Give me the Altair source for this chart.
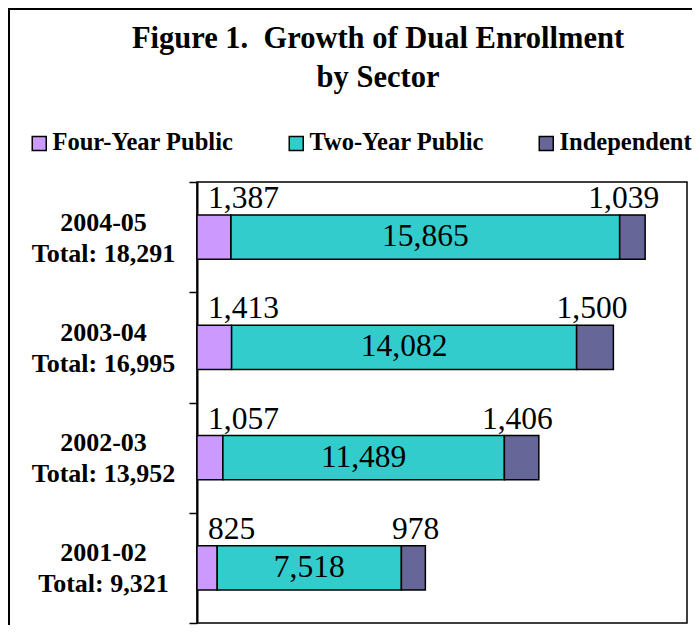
import altair as alt
import pandas as pd

years = ["2004-05", "2003-04", "2002-03", "2001-02"]
totals = [18291, 16995, 13952, 9321]
sectors = ["Four-Year Public", "Two-Year Public", "Independent"]
four_year = [1387, 1413, 1057, 825]
two_year = [15865, 14082, 11489, 7518]
independent = [1039, 1500, 1406, 978]
colors = ["#CC99FF", "#33CCCC", "#666699"]
title_lines = ["Figure 1.\u00a0 Growth of Dual Enrollment", "by Sector"]

FONT = "Liberation Serif"

labels = [f"{y}|Total: {t:,}" for y, t in zip(years, totals)]
rows = []
for i, lab in enumerate(labels):
    vals = [four_year[i], two_year[i], independent[i]]
    start = 0
    for k, (s, v) in enumerate(zip(sectors, vals)):
        rows.append({"label": lab, "sector": s, "order": k, "value": v,
                     "start": start, "end": start + v, "mid": start + v / 2})
        start += v
df = pd.DataFrame(rows)

y_enc = alt.Y(
    "label:N", sort=labels,
    scale=alt.Scale(paddingInner=0, paddingOuter=0),
    axis=alt.Axis(
        title=None, labelExpr="split(datum.label, '|')", labelAlign="center",
        labelBaseline="middle", labelFont=FONT, labelFontSize=26,
        labelFontWeight="bold", labelColor="black", labelLineHeight=31,
        labelPadding=86, labelLimit=0, labelOffset=-15, tickSize=8,
        tickBand="extent", tickColor="black", tickWidth=1.5,
        domainColor="black", domainWidth=2,
    ),
)
xscale = alt.Scale(domain=[0, 20000], nice=False, zero=True)

base = alt.Chart(df)

bars = base.mark_bar(stroke="black", strokeWidth=1.5, height={"band": 0.4}).encode(
    x=alt.X("start:Q", scale=xscale, axis=None),
    x2="end:Q",
    y=y_enc,
    color=alt.Color(
        "sector:N",
        scale=alt.Scale(domain=sectors, range=colors),
        legend=alt.Legend(
            title=None, orient="none", legendX=-170, legendY=-51,
            direction="horizontal", symbolType="square", symbolSize=196,
            symbolStrokeColor="black", symbolStrokeWidth=1.5, symbolOpacity=1,
            labelFont=FONT, labelFontSize=24.5, labelFontWeight="bold",
            labelColor="black", labelOffset=1, columnPadding=50, padding=0,
            labelLimit=0,
        ),
    ),
    order=alt.Order("order:Q"),
)

txt = dict(font=FONT, fontSize=31.5, color="black")

lab_two = base.transform_filter(alt.datum.sector == sectors[1]).mark_text(
    align="center", baseline="middle", **txt
).encode(x=alt.X("mid:Q", scale=xscale, axis=None), y=y_enc,
         text=alt.Text("value:Q", format=","))

lab_four = base.transform_filter(alt.datum.sector == sectors[0]).mark_text(
    align="left", baseline="alphabetic", dx=11, dy=-29, **txt
).encode(x=alt.X("start:Q", scale=xscale, axis=None), y=y_enc,
         text=alt.Text("value:Q", format=","))

lab_ind = base.transform_filter(alt.datum.sector == sectors[2]).mark_text(
    align="right", baseline="alphabetic", dx=14, dy=-29, **txt
).encode(x=alt.X("end:Q", scale=xscale, axis=None), y=y_enc,
         text=alt.Text("value:Q", format=","))

title = alt.Chart(pd.DataFrame({"t": ["\n".join(title_lines)]})).mark_text(
    lineBreak="\n", font=FONT, fontSize=30.5, fontWeight="bold", color="black",
    align="center", baseline="alphabetic", lineHeight=39,
).encode(x=alt.value(181), y=alt.value(-134), text="t:N")

one = pd.DataFrame({"a": [0]})
border_left = alt.Chart(one).mark_rule(color="black", strokeWidth=2).encode(
    x=alt.value(-188), y=alt.value(-174), y2=alt.value(443))
border_top = alt.Chart(one).mark_rule(color="black", strokeWidth=2).encode(
    x=alt.value(-189), x2=alt.value(495), y=alt.value(-173))

chart = alt.layer(border_left, border_top, title, bars, lab_two, lab_four, lab_ind).properties(
    width=490, height=441,
    padding={"left": 189, "top": 174, "right": 5, "bottom": 2},
    autosize="none", background="white",
).configure_view(stroke="black", strokeWidth=1.5)

chart.save("out.html", embed_options={"renderer": "svg", "actions": False})
